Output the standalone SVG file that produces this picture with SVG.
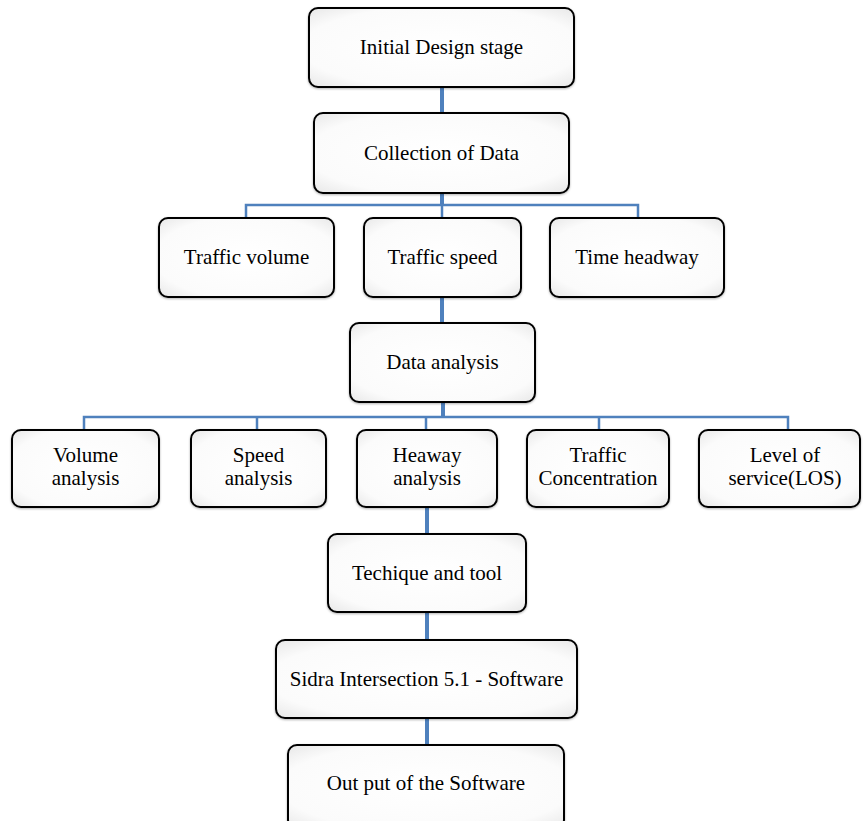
<svg xmlns="http://www.w3.org/2000/svg" width="863" height="821" viewBox="0 0 863 821">
<defs>
<radialGradient id="g" cx="50%" cy="50%" r="70%">
<stop offset="0" stop-color="#ffffff"/>
<stop offset="0.75" stop-color="#fbfbfb"/>
<stop offset="1" stop-color="#e8e8e8"/>
</radialGradient>
<filter id="sh" x="-5%" y="-5%" width="110%" height="115%">
<feDropShadow dx="0" dy="1" stdDeviation="1.2" flood-color="#000" flood-opacity="0.3"/>
</filter>
</defs>
<style>
.box{fill:url(#g);stroke:#000;stroke-width:2;filter:url(#sh)}
.t{font-family:"Liberation Serif","Times New Roman",serif;font-size:21px;fill:#000;text-anchor:middle}
.c{stroke:#4f81bd;fill:none}
.thick{stroke-width:4}
.thin{stroke-width:2.5}
</style>
<rect width="863" height="821" fill="#fff"/>
<g id="connectors">
<line class="c thick" x1="442" y1="87" x2="442" y2="113"/>
<line class="c thick" x1="442" y1="193" x2="442" y2="206"/>
<polyline class="c thin" points="246,218 246,205 638,205 638,218"/>
<line class="c thin" x1="442" y1="205" x2="442" y2="218"/>
<line class="c thick" x1="442" y1="297" x2="442" y2="323"/>
<line class="c thick" x1="443" y1="402" x2="443" y2="418"/>
<polyline class="c thin" points="84,430 84,417 788,417 788,430"/>
<line class="c thin" x1="257" y1="417" x2="257" y2="430"/>
<line class="c thin" x1="426" y1="417" x2="426" y2="430"/>
<line class="c thin" x1="599" y1="417" x2="599" y2="430"/>
<line class="c thick" x1="427" y1="507" x2="427" y2="534"/>
<line class="c thick" x1="427" y1="612" x2="427" y2="640"/>
<line class="c thick" x1="427" y1="718" x2="427" y2="745"/>
</g>
<g id="initial"><rect class="box" x="309" y="8" width="265" height="79" rx="9"/><text class="t" x="441.5" y="54">Initial Design stage</text></g>
<g id="collection"><rect class="box" x="314" y="113" width="255" height="80" rx="9"/><text class="t" x="441.5" y="160">Collection of Data</text></g>
<g id="volume"><rect class="box" x="159" y="218" width="175" height="79" rx="9"/><text class="t" x="246.5" y="264">Traffic volume</text></g>
<g id="speed"><rect class="box" x="364" y="218" width="157" height="79" rx="9"/><text class="t" x="442.5" y="264">Traffic speed</text></g>
<g id="headway"><rect class="box" x="550" y="218" width="174" height="79" rx="9"/><text class="t" x="637" y="264">Time headway</text></g>
<g id="data-analysis"><rect class="box" x="350" y="323" width="185" height="79" rx="9"/><text class="t" x="442.5" y="369">Data analysis</text></g>
<g id="volume-analysis"><rect class="box" x="12" y="430" width="147" height="77" rx="9"/><text class="t" x="85.5" y="462">Volume</text><text class="t" x="85.5" y="485">analysis</text></g>
<g id="speed-analysis"><rect class="box" x="191" y="430" width="135" height="77" rx="9"/><text class="t" x="258.5" y="462">Speed</text><text class="t" x="258.5" y="485">analysis</text></g>
<g id="heaway-analysis"><rect class="box" x="357" y="430" width="140" height="77" rx="9"/><text class="t" x="427" y="462">Heaway</text><text class="t" x="427" y="485">analysis</text></g>
<g id="concentration"><rect class="box" x="527" y="430" width="142" height="77" rx="9"/><text class="t" x="598" y="462">Traffic</text><text class="t" x="598" y="485">Concentration</text></g>
<g id="los"><rect class="box" x="699" y="430" width="161" height="77" rx="9"/><text class="t" x="785" y="462">Level of</text><text class="t" x="785" y="485">service(LOS)</text></g>
<g id="technique"><rect class="box" x="328" y="534" width="198" height="78" rx="9"/><text class="t" x="427" y="580">Techique and tool</text></g>
<g id="sidra"><rect class="box" x="276" y="640" width="301" height="78" rx="9"/><text class="t" x="426.5" y="686">Sidra Intersection 5.1 - Software</text></g>
<g id="output"><rect class="box" x="288" y="745" width="276" height="84" rx="9"/><text class="t" x="426" y="790">Out put of the Software</text></g>
</svg>
